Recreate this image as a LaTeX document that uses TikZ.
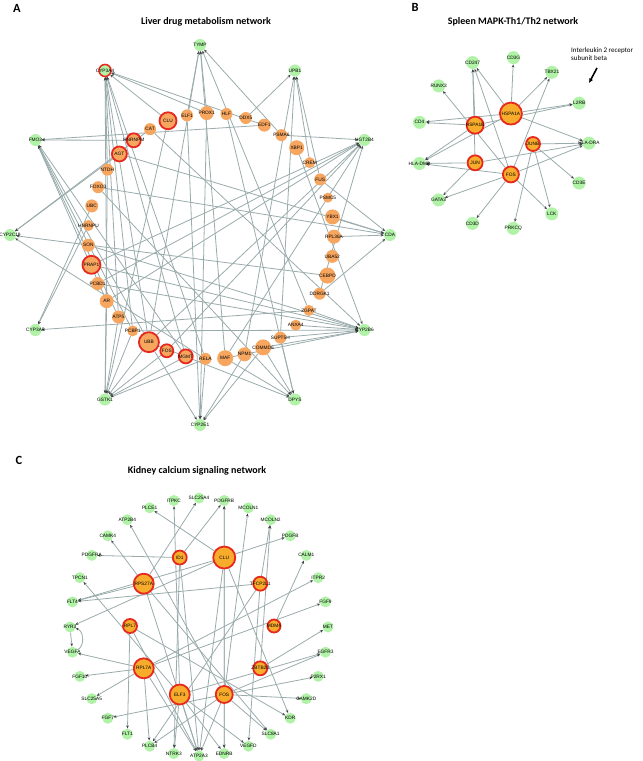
\documentclass[tikz,border=0pt]{standalone}
\usepackage{fontspec}
\setsansfont{Liberation Sans}
\newfontfamily\headfont{Carlito}
\usetikzlibrary{arrows.meta, backgrounds}

\definecolor{orng}{HTML}{F7A660}
\definecolor{leaf}{HTML}{B0F2A6}
\definecolor{ringred}{HTML}{E5291E}
\definecolor{hubfill}{HTML}{F8AC2C}
\definecolor{edgegray}{HTML}{9AABAB}
\definecolor{tipgray}{HTML}{3F4545}

\tikzset{
  leafnode/.style={circle, fill=leaf, inner sep=0pt, minimum size=12pt},
  leafkey/.style={leafnode, draw=ringred, line width=1.5pt},
  regnode/.style={circle, fill=orng, inner sep=0pt},
  keynode/.style={circle, fill=orng, draw=ringred, line width=1.8pt, inner sep=0pt},
  hubnode/.style={circle, fill=hubfill, draw=ringred, line width=1.8pt, inner sep=0pt},
  tag/.style={font=\sffamily\fontsize{4.8}{5}\selectfont, inner sep=0pt},
  link/.style={draw=edgegray, line width=0.8pt, -{Stealth[length=3.2pt, width=2.6pt, color=tipgray]}},
  pointer/.style={draw=black, line width=1.6pt, -{Latex[length=4.5pt, width=4.5pt]}},
  paneltitle/.style={font=\headfont\bfseries\fontsize{10}{12}\selectfont},
  panelletter/.style={font=\headfont\bfseries\fontsize{12.5}{14}\selectfont},
  note/.style={font=\headfont\fontsize{7}{8.5}\selectfont, align=left, inner sep=0pt},
}

\begin{document}
\begin{tikzpicture}[x=1pt, y=-1pt]
    \useasboundingbox (0,0) rectangle (643,761);

    % panel letters and titles
    \node[panelletter] (letterA) at (17,8) {A};
    \node[panelletter] (letterB) at (415,7) {B};
    \node[panelletter] (letterC) at (19,460) {C};
    \node[paneltitle] (titleA) at (206,22) {Liver drug metabolism network};
    \node[paneltitle] (titleB) at (513,22) {Spleen MAPK-Th1/Th2 network};
    \node[paneltitle] (titleC) at (197,471) {Kidney calcium signaling network};

    % A: regulators on the inner ring
    \foreach \nm/\sz/\sty [count=\i from 0] in {PROX1/14/regnode, ELF1/12/regnode, CLU/17/keynode,
        CAT/12/regnode, HNRNPM/14/keynode, AGT/15/keynode, NTDH/12/regnode, FOXO3/12/regnode,
        UBC/13/regnode, HNRNPU/11/regnode, SON/13/regnode, PRAP1/18/keynode, PCBD1/13/regnode,
        AR/14/regnode, ATP5/13/regnode, PCBP1/11/regnode, UBB/20/keynode, FOS/13/keynode,
        MGMT/14/keynode, RELA/12/regnode, MAF/16/regnode, NPM1/14/regnode, COMMD6/16/regnode,
        SUPT5H/12/regnode, ANXA4/11/regnode, ZGPAT/11/regnode, DDRGK1/12/regnode, CEBPD/16/regnode,
        UBA52/13/regnode, RPL36A/14/regnode, YBX1/15/regnode, PSMC5/10/regnode, FUS/12/regnode,
        CREM/11/regnode, XBP1/15/regnode, PSMA6/12/regnode, EDF1/13/regnode, DDX5/12/regnode,
        HLF/12/regnode}
        \node[\sty, minimum size=\sz pt, label={[tag]center:\nm}] (a\nm)
            at ({211+123*cos(92+9.231*\i)}, {236-123*sin(92+9.231*\i)}) {};

    % A: targets on the outer ring
    \foreach \nm/\sty [count=\i from 0] in {TYMP/leafnode, UPB1/leafnode, UGT2B4/leafnode,
        CDA/leafnode, CYP2B6/leafnode, DPYS/leafnode, CYP2E1/leafnode, GSTK1/leafnode,
        CYP3A5/leafnode, CYP2C19/leafnode, FMO3/leafnode, CYP3A4/leafkey}
        \node[\sty, label={[tag]center:\nm}] (a\nm)
            at ({200+190*cos(90-30*\i)}, {235-190*sin(90-30*\i)}) {};

    % B: targets and hubs
    \foreach \nm [count=\i from 0] in {CD3G, TBX21, L2RB, HLA-DRA, CD3E, LCK, PRKCQ, CD3D,
        GATA3, HLA-DMB, CD4, RUNX3, CD247}
        \node[leafnode, minimum size=13pt, label={[tag]center:\nm}] (b\nm)
            at ({503+86*cos(83-27.69*\i)}, {143-86*sin(83-27.69*\i)}) {};
    \foreach \nm/\sz [count=\i from 0] in {JUNB/14, HSPA1A/22, HSPA1B/17, JUN/15, FOS/16}
        \node[hubnode, minimum size=\sz pt, label={[tag]center:\nm}] (b\nm)
            at ({501+32*cos(72*\i)}, {144-32*sin(72*\i)}) {};

    \node[note, anchor=north west] (il2note) at (571,47) {Interleukin 2 receptor\\subunit beta};
    \coordinate (il2tail) at (597,68);
    \coordinate (il2tip) at (589,83);
    \draw[pointer] (il2tail) -- (il2tip);

    % C: targets and hubs
    \foreach \nm [count=\i from 0] in {SLC25A4, PDGFRB, MCOLN1, MCOLN2, PDGFB, CALM1, ITPR2,
        FGF9, MET, EGFR3, P2RX1, CAMK2D, KDR, SLC8A1, VEGFD, EDNRB, ATP2A3, NTRK3, PLCB4,
        FLT1, FGF7, SLC25A5, FGF10, VEGFA, RYR3, FLT4, TPCN1, PDGFRA, CAMK4, ATP2B4, PLCE1, ITPKC}
        \node[leafnode, minimum size=11pt, label={[tag]center:\nm}] (c\nm)
            at ({199+129*cos(90-11.25*\i)}, {627-129*sin(90-11.25*\i)}) {};
    \foreach \nm/\sz [count=\i from 0] in {ID1/14, CLU/22, TFCP2L1/14, MDM4/13, ZBTB20/14,
        FOS/17, ELF3/20, RPL7A/20, RPL7/14, RPS27A/20}
        \node[hubnode, minimum size=\sz pt, label={[tag]center:\nm}] (c\nm)
            at ({202+72*cos(108-36*\i)}, {626-72*sin(108-36*\i)}) {};

    \begin{scope}[on background layer]
        % A edges
        \foreach \s/\t in {CLU/CYP3A4, PROX1/CYP3A4, EDF1/CYP3A4, ATP5/CYP3A4, PCBP1/CYP3A4,
            UBB/CYP3A4, AR/CYP3A4, MGMT/CYP3A4, RELA/CYP3A4, NTDH/CYP3A4,
            PROX1/TYMP, ELF1/TYMP, PSMA6/TYMP, MAF/TYMP, UBB/TYMP, ZGPAT/TYMP,
            DDX5/UPB1, FUS/UPB1, CREM/UPB1, NPM1/UPB1, SUPT5H/UPB1,
            PSMA6/UGT2B4, PCBD1/UGT2B4, AR/UGT2B4, UBB/UGT2B4, MAF/UGT2B4, DDRGK1/UGT2B4,
            FOS/UGT2B4, PRAP1/UGT2B4,
            YBX1/CDA, RPL36A/CDA, FUS/CDA, DDRGK1/CDA, AGT/CDA, FOXO3/CDA,
            ZGPAT/CYP2B6, ANXA4/CYP2B6, SUPT5H/CYP2B6, COMMD6/CYP2B6, MAF/CYP2B6, PRAP1/CYP2B6,
            PCBD1/CYP2B6, CAT/CYP2B6, PCBP1/CYP2B6, XBP1/CYP2B6, SON/CYP2B6,
            COMMD6/DPYS, MAF/DPYS, SUPT5H/DPYS, UBB/DPYS, HLF/DPYS, FOXO3/DPYS,
            UBB/CYP2E1, RELA/CYP2E1, NPM1/CYP2E1, PROX1/CYP2E1, ELF1/CYP2E1, COMMD6/CYP2E1,
            ATP5/GSTK1, PCBP1/GSTK1, UBB/GSTK1, FOS/GSTK1, MGMT/GSTK1, NTDH/GSTK1, AR/GSTK1,
            CLU/GSTK1, RELA/GSTK1,
            ZGPAT/CYP3A5, UBC/CYP3A5, HNRNPU/CYP3A5,
            CAT/CYP2C19, AGT/CYP2C19, CEBPD/CYP2C19, RELA/CYP2C19,
            EDF1/FMO3, HNRNPM/FMO3, PCBP1/FMO3, UBB/FMO3, ATP5/FMO3, AR/FMO3, MGMT/FMO3}
            \draw[link] (a\s) -- (a\t);

        % B edges
        \foreach \s/\t in {HSPA1A/CD247, HSPA1A/CD3G, HSPA1A/TBX21, HSPA1A/L2RB, HSPA1A/CD4,
            HSPA1A/HLA-DMB, HSPA1A/HLA-DRA, HSPA1B/CD247, HSPA1B/L2RB, HSPA1B/CD4, HSPA1B/HLA-DMB,
            JUN/CD247, JUN/HLA-DMB, JUN/GATA3, JUN/HLA-DRA,
            FOS/RUNX3, FOS/TBX21, FOS/HLA-DMB, FOS/CD3D, FOS/GATA3, FOS/LCK, FOS/HLA-DRA, FOS/CD247,
            JUNB/HLA-DRA, JUNB/CD3E, JUNB/LCK, JUNB/PRKCQ}
            \draw[link] (b\s) -- (b\t);

        % C edges
        \foreach \s/\t in {ID1/PDGFRA, ID1/PDGFRB, ID1/ATP2A3, ID1/NTRK3,
            CLU/PDGFB, CLU/PDGFRB, CLU/PLCE1, CLU/RYR3, CLU/ATP2A3, CLU/EDNRB, CLU/FLT4, CLU/KDR,
            TFCP2L1/MCOLN2, TFCP2L1/FLT4, TFCP2L1/VEGFD, TFCP2L1/PLCB4,
            MDM4/CALM1, ZBTB20/MET, ZBTB20/MCOLN2,
            FOS/EGFR3, FOS/P2RX1, FOS/CAMK2D, FOS/EDNRB, FOS/ATP2A3, FOS/MCOLN1, FOS/PDGFRB,
            FOS/ATP2B4, FOS/FGF7, FOS/PLCB4, FOS/SLC8A1,
            ELF3/NTRK3, ELF3/ATP2A3, ELF3/ITPKC, ELF3/VEGFD, ELF3/EDNRB, ELF3/TPCN1, ELF3/EGFR3,
            RPL7A/VEGFA, RPL7A/FGF10, RPL7A/SLC25A5, RPL7A/PLCB4, RPL7A/ATP2A3, RPL7A/ITPR2, RPL7A/FGF9,
            RPL7/FLT1, RPL7/ATP2A3, RPL7/KDR,
            RPS27A/CAMK4, RPS27A/SLC25A4, RPS27A/ATP2A3, RPS27A/SLC8A1, RPS27A/FLT4,
            RYR3/VEGFA}
            \draw[link] (c\s) -- (c\t);
        \draw[link] (cVEGFA) to[bend right=70] (cRYR3);
    \end{scope}

\end{tikzpicture}
\end{document}
